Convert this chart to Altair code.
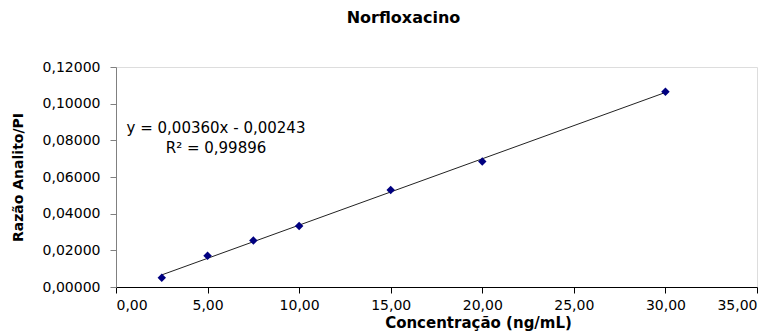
import altair as alt
import pandas as pd

# Data
concentracao = [2.5, 5.0, 7.5, 10.0, 15.0, 20.0, 30.0]
razao = [0.0051, 0.0171, 0.0253, 0.0333, 0.0529, 0.0684, 0.1065]
x_ticks = [0, 5, 10, 15, 20, 25, 30, 35]
y_ticks = [0.0, 0.02, 0.04, 0.06, 0.08, 0.10, 0.12]
annotation_lines = ["y = 0,00360x - 0,00243", "R² = 0,99896"]
title_text = "Norfloxacino"
x_title = "Concentração (ng/mL)"
y_title = "Razão Analito/PI"

df = pd.DataFrame({"x": concentracao, "y": razao})
ann = pd.DataFrame({"t": annotation_lines, "i": [0, 1]})

FONT = "DejaVu Sans"

x_enc = alt.X(
    "x:Q",
    scale=alt.Scale(domain=[0, 35], nice=False),
    axis=alt.Axis(
        values=x_ticks,
        labelExpr="replace(format(datum.value, '.2f'), '.', ',')",
        labelOverlap=False,
        title=x_title,
        titleX=362,
        titleY=40,
        titleAlign="center",
        titleBaseline="alphabetic",
        titleFont=FONT,
        titleFontSize=15,
        titleFontWeight="bold",
        titleColor="#000000",
        labelFont=FONT,
        labelFontSize=14,
        labelColor="#000000",
        labelPadding=5,
        tickSize=6,
        tickColor="#000000",
        domainColor="#000000",
        grid=False,
    ),
)
y_enc = alt.Y(
    "y:Q",
    scale=alt.Scale(domain=[0, 0.12], nice=False),
    axis=alt.Axis(
        values=y_ticks,
        labelExpr="replace(format(datum.value, '.5f'), '.', ',')",
        labelOverlap=False,
        title=y_title,
        titleAngle=270,
        titleX=-98,
        titleY=110,
        titleAlign="center",
        titleBaseline="middle",
        titleFont=FONT,
        titleFontSize=14,
        titleFontWeight="bold",
        titleColor="#000000",
        labelFont=FONT,
        labelFontSize=14,
        labelColor="#000000",
        labelPadding=10,
        tickSize=6,
        tickColor="#808080",
        domainColor="#808080",
        grid=False,
    ),
)

points = alt.Chart(df).mark_point(
    shape="diamond", filled=True, size=72, color="#000080", opacity=1
).encode(x=x_enc, y=y_enc)

trend = alt.Chart(df).transform_regression(
    "x", "y", extent=[2.5, 30]
).mark_line(color="#222222", strokeWidth=1).encode(x=x_enc, y=y_enc)

annot1 = alt.Chart(ann).transform_filter("datum.i == 0").mark_text(
    font=FONT, fontSize=15, color="#000000", align="center", baseline="middle"
).encode(text="t:N", x=alt.value(100), y=alt.value(61))
annot2 = alt.Chart(ann).transform_filter("datum.i == 1").mark_text(
    font=FONT, fontSize=15, color="#000000", align="center", baseline="middle"
).encode(text="t:N", x=alt.value(100), y=alt.value(81))

chart = alt.layer(trend, points, annot1, annot2).properties(
    width=641,
    height=220,
    autosize=alt.AutoSizeParams(type="none"),
    padding={"left": 108, "top": 59, "right": 10, "bottom": 50},
    title=alt.TitleParams(
        title_text,
        font=FONT,
        fontSize=16,
        fontWeight="bold",
        color="#000000",
        anchor="middle",
        dx=-33,
        offset=34,
    ),
).configure_view(stroke=None).configure(background="#ffffff")

chart.save("out.html", embed_options={"renderer": "svg", "actions": False})
